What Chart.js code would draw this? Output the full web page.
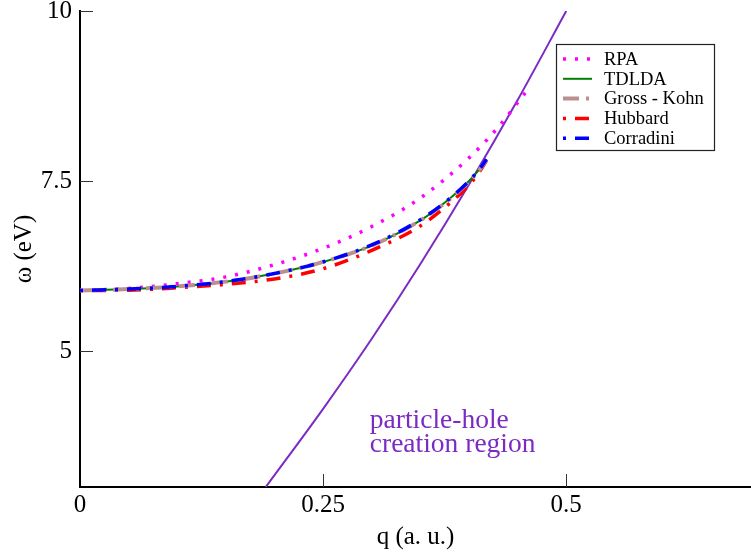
<!DOCTYPE html>
<html>
<head>
<meta charset="utf-8">
<script src="https://cdn.jsdelivr.net/npm/chart.js@4.4.1/dist/chart.umd.min.js"></script>
<style>
  body { margin: 0; background: #fff; }
  canvas { display: block; }
</style>
</head>
<body>
<canvas id="plasmonCanvas" width="751" height="552"></canvas>
<script>
// values (q in a.u., omega in eV)
var qMain = [0, 0.05, 0.1, 0.15, 0.2, 0.25, 0.3, 0.35, 0.38, 0.4, 0.41, 0.418];
var wTDLDA = [5.89, 5.91, 5.95, 6.02, 6.14, 6.31, 6.55, 6.92, 7.24, 7.50, 7.66, 7.82];
var wGrossKohn = [5.89, 5.91, 5.95, 6.02, 6.14, 6.31, 6.55, 6.92, 7.23, 7.49, 7.65, 7.81];
var wCorradini = [5.89, 5.91, 5.95, 6.02, 6.14, 6.31, 6.56, 6.93, 7.24, 7.50, 7.66, 7.82];
var wHubbard = [5.89, 5.895, 5.93, 5.98, 6.06, 6.21, 6.48, 6.84, 7.17, 7.44, 7.62, 7.80];

var qRPA = [0, 0.05, 0.1, 0.15, 0.2, 0.25, 0.3, 0.35, 0.4, 0.43, 0.458];
var wRPA = [5.89, 5.92, 5.99, 6.09, 6.27, 6.51, 6.83, 7.25, 7.84, 8.29, 8.80];

// edge of the particle-hole continuum
var qEdge = [0.191, 0.25, 0.3, 0.35, 0.4, 0.45, 0.5];
var wEdge = [3.0, 4.15, 5.18, 6.28, 7.45, 8.69, 10.0];

var xTicks = [0, 0.25, 0.5];
var yTicks = [5, 7.5, 10];
var edgeText = ["particle-hole", "creation region"];

var serif = "'Liberation Serif', 'Times New Roman', serif";
var purple = '#7b2bc4';

function pts(xs, ys) {
    var out = [];
    for (var i = 0; i < xs.length; i++) {
        out.push({x: xs[i], y: ys[i]});
    }
    return out;
}

// inner tick marks on both axes
var innerTicks = {
    id: 'innerTicks',
    afterDatasetsDraw: function(chart) {
        var c = chart.ctx, a = chart.chartArea;
        var xs = chart.scales.x, ys = chart.scales.y;
        c.save();
        c.strokeStyle = '#333';
        c.lineWidth = 1;
        c.beginPath();
        xTicks.forEach(function(v) {
            if (v === 0) return;
            var px = Math.round(xs.getPixelForValue(v)) + 0.5;
            c.moveTo(px, a.bottom);
            c.lineTo(px, a.bottom - 13);
        });
        yTicks.forEach(function(v) {
            var py = Math.round(ys.getPixelForValue(v)) + 0.5;
            c.moveTo(a.left, py);
            c.lineTo(a.left + 13, py);
        });
        c.stroke();
        c.restore();
    }
};

// legend box and the region label
var boxLegend = {
    id: 'boxLegend',
    afterDraw: function(chart) {
        var c = chart.ctx;
        var xs = chart.scales.x, ys = chart.scales.y;
        c.save();
        // region label
        c.fillStyle = purple;
        c.font = '27.5px ' + serif;
        c.textBaseline = 'alphabetic';
        c.textAlign = 'left';
        var tx = xs.getPixelForValue(0.298);
        c.fillText(edgeText[0], tx, ys.getPixelForValue(3.87));
        c.fillText(edgeText[1], tx, ys.getPixelForValue(3.515));

        // legend
        c.fillStyle = '#fff';
        c.fillRect(556, 44, 159, 107);
        c.strokeStyle = '#222';
        c.lineWidth = 1.2;
        c.strokeRect(556.5, 44.5, 158, 106);
        c.font = '18.5px ' + serif;
        c.textBaseline = 'middle';
        var items = chart.data.datasets.filter(function(d) { return d.inLegend; });
        items.forEach(function(d, i) {
            var y = 59 + i * 19.8;
            c.save();
            c.strokeStyle = d.borderColor;
            c.lineWidth = d.borderWidth;
            c.setLineDash(d.borderDash || []);
            c.beginPath();
            c.moveTo(563, y);
            c.lineTo(592, y);
            c.stroke();
            c.restore();
            c.fillStyle = '#000';
            c.fillText(d.label, 604, y + 1);
        });
        c.restore();
    }
};

var ctx = document.getElementById('plasmonCanvas').getContext('2d');
var chart = new Chart(ctx, {
    type: 'scatter',
    data: {
        datasets: [{
            label: 'RPA',
            data: pts(qRPA, wRPA),
            borderColor: '#ff00ff',
            borderWidth: 3.5,
            borderDash: [3, 9],
            inLegend: true,
            order: 4
        }, {
            label: 'TDLDA',
            data: pts(qMain, wTDLDA),
            borderColor: '#008000',
            borderWidth: 2,
            inLegend: true,
            order: 2
        }, {
            label: 'Gross - Kohn',
            data: pts(qMain, wGrossKohn),
            borderColor: '#bc8f8f',
            borderWidth: 4,
            borderDash: [16, 7, 3, 7],
            inLegend: true,
            order: 1
        }, {
            label: 'Hubbard',
            data: pts(qMain, wHubbard),
            borderColor: '#ff0000',
            borderWidth: 3.5,
            borderDash: [3, 9, 14, 9],
            inLegend: true,
            order: 3
        }, {
            label: 'Corradini',
            data: pts(qMain, wCorradini),
            borderColor: '#0000ff',
            borderWidth: 3.5,
            borderDash: [3, 9, 14, 9],
            inLegend: true,
            order: 0
        }, {
            label: 'edge',
            data: pts(qEdge, wEdge),
            borderColor: purple,
            borderWidth: 2,
            inLegend: false,
            order: 5
        }]
    },
    options: {
        responsive: false,
        animation: false,
        showLine: true,
        elements: {
            point: { radius: 0, hoverRadius: 0 },
            line: { cubicInterpolationMode: 'monotone', borderCapStyle: 'butt' }
        },
        layout: { padding: { top: 11, right: 0, left: 0, bottom: 0 } },
        plugins: {
            legend: { display: false },
            tooltip: { enabled: false }
        },
        scales: {
            x: {
                type: 'linear',
                min: 0,
                max: 0.69,
                afterBuildTicks: function(scale) {
                    scale.ticks = xTicks.map(function(v) { return {value: v}; });
                },
                afterFit: function(scale) {
                    scale.height = 65;
                    scale.paddingLeft = 0;
                    scale.paddingRight = 0;
                },
                ticks: {
                    color: '#000',
                    padding: 3,
                    maxRotation: 0,
                    font: { family: serif, size: 25 },
                    callback: function(v) { return String(v); }
                },
                grid: { display: true, drawOnChartArea: false, drawTicks: false },
                border: { display: true, color: '#000', width: 2 },
                title: {
                    display: true,
                    text: 'q (a. u.)',
                    color: '#000',
                    font: { family: serif, size: 25 },
                    padding: { top: 0, bottom: 0 }
                }
            },
            y: {
                type: 'linear',
                min: 3,
                max: 10,
                afterBuildTicks: function(scale) {
                    scale.ticks = yTicks.map(function(v) { return {value: v}; });
                },
                afterFit: function(scale) {
                    scale.width = 80;
                    scale.paddingTop = 0;
                    scale.paddingBottom = 0;
                },
                ticks: {
                    color: '#000',
                    padding: 8,
                    font: { family: serif, size: 25 },
                    callback: function(v) { return String(v); }
                },
                grid: { display: true, drawOnChartArea: false, drawTicks: false },
                border: { display: true, color: '#000', width: 2 },
                title: {
                    display: true,
                    text: 'ω (eV)',
                    color: '#000',
                    font: { family: serif, size: 25 },
                    padding: { top: 9, bottom: 0 }
                }
            }
        }
    },
    plugins: [innerTicks, boxLegend]
});
</script>
</body>
</html>
